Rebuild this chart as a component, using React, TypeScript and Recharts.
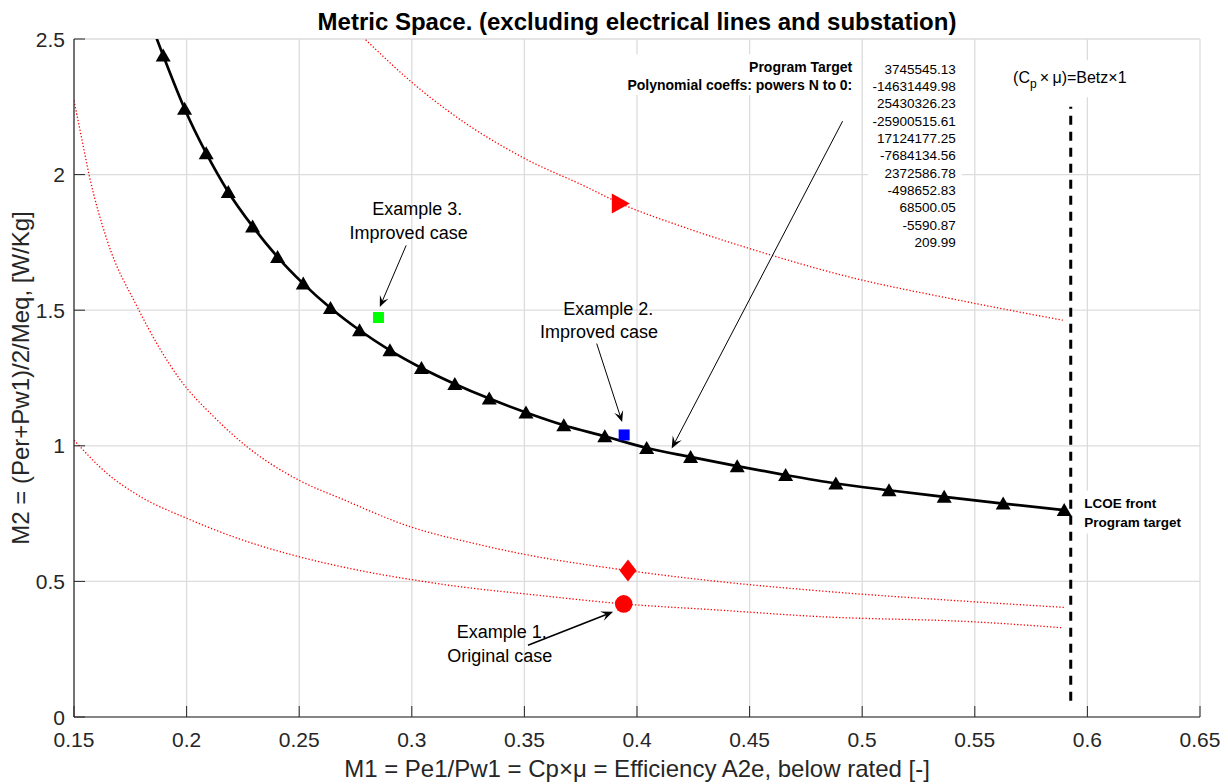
import React from "react";
import {
  CartesianGrid,
  ComposedChart,
  Line,
  ReferenceDot,
  ReferenceLine,
  Scatter,
  XAxis,
  YAxis,
} from "recharts";

const FONT = '"Liberation Sans", Arial, Helvetica, sans-serif';
const AXIS = "#262626";

const xTicks = [0.15, 0.2, 0.25, 0.3, 0.35, 0.4, 0.45, 0.5, 0.55, 0.6, 0.65];
const yTicks = [0, 0.5, 1, 1.5, 2, 2.5];

// LCOE front / program target (black, triangles)
const frontM1 = [
  0.1801, 0.1896, 0.1991, 0.2087, 0.2185, 0.2293, 0.2404, 0.2518, 0.2639, 0.2768, 0.2903, 0.3043, 0.3191,
  0.3344, 0.3507, 0.3675, 0.3857, 0.4043, 0.4238, 0.4445, 0.466, 0.4883, 0.5119, 0.5364, 0.5626, 0.5897,
];
const frontM2 = [
  2.65, 2.439, 2.243, 2.079, 1.936, 1.809, 1.696, 1.598, 1.508, 1.426, 1.352, 1.287, 1.228,
  1.174, 1.123, 1.076, 1.035, 0.992, 0.959, 0.925, 0.892, 0.861, 0.836, 0.812, 0.787, 0.763,
];

// red dotted iso-lines through the example cases
const isoHighM1 = [0.27, 0.2799, 0.2999, 0.3169, 0.3502, 0.3761, 0.3928, 0.4205, 0.4501, 0.4945, 0.5434, 0.5891];
const isoHighM2 = [2.573, 2.494, 2.341, 2.23, 2.059, 1.96, 1.893, 1.807, 1.727, 1.622, 1.536, 1.463];

const isoMidM1 = [
  0.15, 0.1536, 0.1566, 0.1647, 0.1781, 0.1973, 0.2121, 0.2269, 0.2499, 0.2684, 0.2995, 0.3276, 0.348, 0.396,
  0.4368, 0.4812, 0.5493, 0.59,
];
const isoMidM2 = [
  2.273, 2.126, 2.003, 1.758, 1.512, 1.242, 1.107, 0.996, 0.873, 0.806, 0.701, 0.64, 0.603, 0.54, 0.499, 0.465,
  0.425, 0.404,
];

const isoLowM1 = [
  0.15, 0.1647, 0.1796, 0.2003, 0.224, 0.2499, 0.2758, 0.2995, 0.3276, 0.348, 0.3941, 0.4368, 0.4812, 0.5493, 0.5893,
];
const isoLowM2 = [1.021, 0.898, 0.812, 0.732, 0.655, 0.591, 0.542, 0.507, 0.474, 0.456, 0.417, 0.394, 0.37, 0.351, 0.329];

// Betz limit line
const betzM1 = [0.5926, 0.5926];
const betzM2 = [0.06, 2.25];

// example cases: ex3, ex2, ex1 original, ex1 diamond, ex1 triangle
const caseM1 = [0.2852, 0.3943, 0.3941, 0.396, 0.3928];
const caseM2 = [1.473, 1.04, 0.417, 0.54, 1.893];

const coeffs = [
  "3745545.13",
  "-14631449.98",
  "25430326.23",
  "-25900515.61",
  "17124177.25",
  "-7684134.56",
  "2372586.78",
  "-498652.83",
  "68500.05",
  "-5590.87",
  "209.99",
];

const zip = (xs: number[], ys: number[]) => xs.map((x, i) => ({ x, y: ys[i] }));

const front = zip(frontM1, frontM2);
const isoHigh = zip(isoHighM1, isoHighM2);
const isoMid = zip(isoMidM1, isoMidM2);
const isoLow = zip(isoLowM1, isoLowM2);
const betz = zip(betzM1, betzM2);
const cases = zip(caseM1, caseM2);

function XTick(p: any) {
  const v = p.payload.value;
  return (
    <g>
      <line x1={p.x} x2={p.x} y1={p.y} y2={p.y - 11} stroke={AXIS} strokeWidth={1} />
      <text x={p.x} y={p.y + 30} textAnchor="middle" fontSize={21} fontFamily={FONT} fill={AXIS}>
        {String(v)}
      </text>
    </g>
  );
}

function YTick(p: any) {
  const v = p.payload.value;
  return (
    <g>
      <line x1={p.x} x2={p.x + 11} y1={p.y} y2={p.y} stroke={AXIS} strokeWidth={1} />
      <text x={p.x - 9} y={p.y + 7.5} textAnchor="end" fontSize={21} fontFamily={FONT} fill={AXIS}>
        {String(v)}
      </text>
    </g>
  );
}

function TriUp({ cx, cy }: any) {
  if (cx == null || cy == null) return <g />;
  return <polygon points={`${cx},${cy - 7} ${cx - 7.5},${cy + 6} ${cx + 7.5},${cy + 6}`} fill="#000" />;
}

function Arrow(p: any) {
  const { x1, y1, x2, y2 } = p;
  const head = p.head ?? 11;
  const dx = x2 - x1;
  const dy = y2 - y1;
  const len = Math.hypot(dx, dy) || 1;
  const ux = dx / len;
  const uy = dy / len;
  const px = -uy;
  const py = ux;
  const hw = head * 0.42;
  const bx = x2 - ux * head;
  const by = y2 - uy * head;
  const nx = x2 - ux * head * 0.6;
  const ny = y2 - uy * head * 0.6;
  return (
    <g>
      <line x1={x1} y1={y1} x2={nx} y2={ny} stroke="#000" strokeWidth={p.w ?? 1} />
      <polygon
        points={`${x2},${y2} ${bx + px * hw},${by + py * hw} ${nx},${ny} ${bx - px * hw},${by - py * hw}`}
        fill="#000"
      />
    </g>
  );
}

const txt = (s: string, fs: number, anchor: "start" | "middle" | "end" = "middle", bold = false) =>
  (p: any) => (
    <text
      x={p.cx}
      y={p.cy + fs * 0.36}
      textAnchor={anchor}
      fontSize={fs}
      fontWeight={bold ? "bold" : "normal"}
      fontFamily={FONT}
      fill="#000"
    >
      {s}
    </text>
  );

export default function App() {
  return (
    <div style={{ position: "relative", width: 1220, height: 776 }}>
      <ComposedChart width={1212} height={768} margin={{ top: 31, right: 20, left: 0, bottom: 0 }}>
        <CartesianGrid stroke="#dcdcdc" strokeWidth={1.3} />
        <XAxis
          type="number"
          dataKey="x"
          domain={[0.15, 0.65]}
          ticks={xTicks}
          interval={0}
          allowDataOverflow
          height={59}
          tickSize={0}
          tickMargin={0}
          tickLine={false}
          axisLine={{ stroke: AXIS, strokeWidth: 1.2 }}
          tick={(p: any) => <XTick {...p} />}
        />
        <YAxis
          type="number"
          dataKey="y"
          domain={[0, 2.5]}
          ticks={yTicks}
          interval={0}
          allowDataOverflow
          width={66}
          tickSize={0}
          tickMargin={0}
          tickLine={false}
          axisLine={{ stroke: AXIS, strokeWidth: 1.2 }}
          tick={(p: any) => <YTick {...p} />}
        />

        <Line data={isoHigh} dataKey="y" type="monotone" stroke="#ff0000" strokeWidth={1.3} strokeDasharray="1.3 2" dot={false} activeDot={false} isAnimationActive={false} />
        <Line data={isoMid} dataKey="y" type="monotone" stroke="#ff0000" strokeWidth={1.3} strokeDasharray="1.3 2" dot={false} activeDot={false} isAnimationActive={false} />
        <Line data={isoLow} dataKey="y" type="monotone" stroke="#ff0000" strokeWidth={1.3} strokeDasharray="1.3 2" dot={false} activeDot={false} isAnimationActive={false} />
        <Line data={betz} dataKey="y" type="linear" stroke="#000" strokeWidth={3} strokeDasharray="9 7" dot={false} activeDot={false} isAnimationActive={false} />
        <Line
          data={front}
          dataKey="y"
          type="monotone"
          stroke="#000"
          strokeWidth={2.7}
          dot={(p: any) => <TriUp key={`f${p.index}`} cx={p.cx} cy={p.cy} />}
          activeDot={false}
          isAnimationActive={false}
        />

        {/* example markers */}
        <Scatter data={[cases[0]]} isAnimationActive={false} shape={(p: any) => <rect x={p.cx - 5.5} y={p.cy - 5.5} width={11} height={11} fill="#00ff00" />} />
        <Scatter data={[cases[1]]} isAnimationActive={false} shape={(p: any) => <rect x={p.cx - 5.5} y={p.cy - 5.5} width={11} height={11} fill="#0000ff" />} />
        <Scatter data={[cases[2]]} isAnimationActive={false} shape={(p: any) => <circle cx={p.cx} cy={p.cy} r={8.8} fill="#ff0000" />} />
        <Scatter
          data={[cases[3]]}
          isAnimationActive={false}
          shape={(p: any) => (
            <polygon points={`${p.cx},${p.cy - 11} ${p.cx + 8.5},${p.cy} ${p.cx},${p.cy + 11} ${p.cx - 8.5},${p.cy}`} fill="#ff0000" />
          )}
        />
        <Scatter
          data={[cases[4]]}
          isAnimationActive={false}
          shape={(p: any) => (
            <polygon points={`${p.cx - 9},${p.cy - 10} ${p.cx + 9},${p.cy} ${p.cx - 9},${p.cy + 10}`} fill="#ff0000" />
          )}
        />

        {/* arrows */}
        <ReferenceLine segment={[{ x: 0.2975, y: 1.739 }, { x: 0.2858, y: 1.512 }]} shape={(p: any) => <Arrow {...p} head={11} w={1} />} />
        <ReferenceLine segment={[{ x: 0.3821, y: 1.377 }, { x: 0.3934, y: 1.088 }]} shape={(p: any) => <Arrow {...p} head={11} w={1} />} />
        <ReferenceLine segment={[{ x: 0.3516, y: 0.265 }, { x: 0.3894, y: 0.388 }]} shape={(p: any) => <Arrow {...p} head={12} w={1.6} />} />
        <ReferenceLine segment={[{ x: 0.4913, y: 2.197 }, { x: 0.4154, y: 0.99 }]} shape={(p: any) => <Arrow {...p} head={12} w={1} />} />

        {/* case labels */}
        <ReferenceDot x={0.3024} y={1.874} r={0} shape={txt("Example 3.", 18)} />
        <ReferenceDot x={0.2986} y={1.788} r={0} shape={txt("Improved case", 18)} />
        <ReferenceDot x={0.3872} y={1.507} r={0} shape={txt("Example 2.", 18)} />
        <ReferenceDot x={0.3831} y={1.42} r={0} shape={txt("Improved case", 18)} />
        <ReferenceDot x={0.3399} y={0.314} r={0} shape={txt("Example 1.", 18)} />
        <ReferenceDot x={0.3391} y={0.225} r={0} shape={txt("Original case", 18)} />

        {/* polynomial note */}
        <ReferenceDot
          x={0.4956}
          y={2.396}
          r={0}
          shape={(p: any) => (
            <g>
              <rect x={p.cx - 220} y={p.cy - 13} width={223} height={41} fill="#fff" />
              <text x={p.cx} y={p.cy + 5} textAnchor="end" fontSize={14} fontWeight="bold" fontFamily={FONT}>
                Program Target
              </text>
              <text x={p.cx} y={p.cy + 22.6} textAnchor="end" fontSize={14} fontWeight="bold" fontFamily={FONT}>
                Polynomial coeffs: powers N to 0:
              </text>
            </g>
          )}
        />
        <ReferenceDot
          x={0.5416}
          y={2.39}
          r={0}
          shape={(p: any) => (
            <g>
              <rect x={p.cx - 88} y={p.cy - 10} width={94} height={192} fill="#fff" />
              {coeffs.map((c, i) => (
                <text key={c} x={p.cx} y={p.cy + i * 17.34 + 4.8} textAnchor="end" fontSize={13.5} fontFamily={FONT}>
                  {c}
                </text>
              ))}
            </g>
          )}
        />

        {/* Betz label */}
        <ReferenceDot
          x={0.5922}
          y={2.359}
          r={0}
          shape={(p: any) => (
            <g>
              <rect x={p.cx - 62} y={p.cy - 17} width={124} height={37} fill="#fff" />
              <text x={p.cx} y={p.cy + 5.8} textAnchor="middle" fontSize={16} fontFamily={FONT}>
                (C
                <tspan fontSize={12} dy={5}>p</tspan>
                <tspan dy={-5}>{"\u2009\u00d7\u2009\u03bc)=Betz\u00d71"}</tspan>
              </text>
            </g>
          )}
        />

        {/* LCOE label */}
        <ReferenceDot
          x={0.5986}
          y={0.787}
          r={0}
          shape={(p: any) => (
            <g>
              <rect x={p.cx - 4} y={p.cy - 13} width={110} height={43} fill="#fff" />
              <text x={p.cx} y={p.cy + 4.9} fontSize={13.5} fontWeight="bold" fontFamily={FONT}>
                LCOE front
              </text>
              <text x={p.cx} y={p.cy + 23.3} fontSize={13.5} fontWeight="bold" fontFamily={FONT}>
                Program target
              </text>
            </g>
          )}
        />
      </ComposedChart>

      <svg
        width={1220}
        height={776}
        style={{ position: "absolute", left: 0, top: 0, pointerEvents: "none" }}
      >
        <text x={629} y={21.5} textAnchor="middle" fontSize={24} fontWeight="bold" fontFamily={FONT} fill="#000">
          Metric Space. (excluding electrical lines and substation)
        </text>
        <text x={629} y={768.5} textAnchor="middle" fontSize={24} fontFamily={FONT} fill={AXIS}>
          {"M1 = Pe1/Pw1 = Cp\u00d7\u03bc = Efficiency A2e, below rated [-]"}
        </text>
        <text
          transform="translate(12,370) rotate(-90)"
          x={0}
          y={8.6}
          textAnchor="middle"
          fontSize={24}
          fontFamily={FONT}
          fill={AXIS}
        >
          M2 = (Per+Pw1)/2/Meq, [W/Kg]
        </text>
      </svg>
    </div>
  );
}
